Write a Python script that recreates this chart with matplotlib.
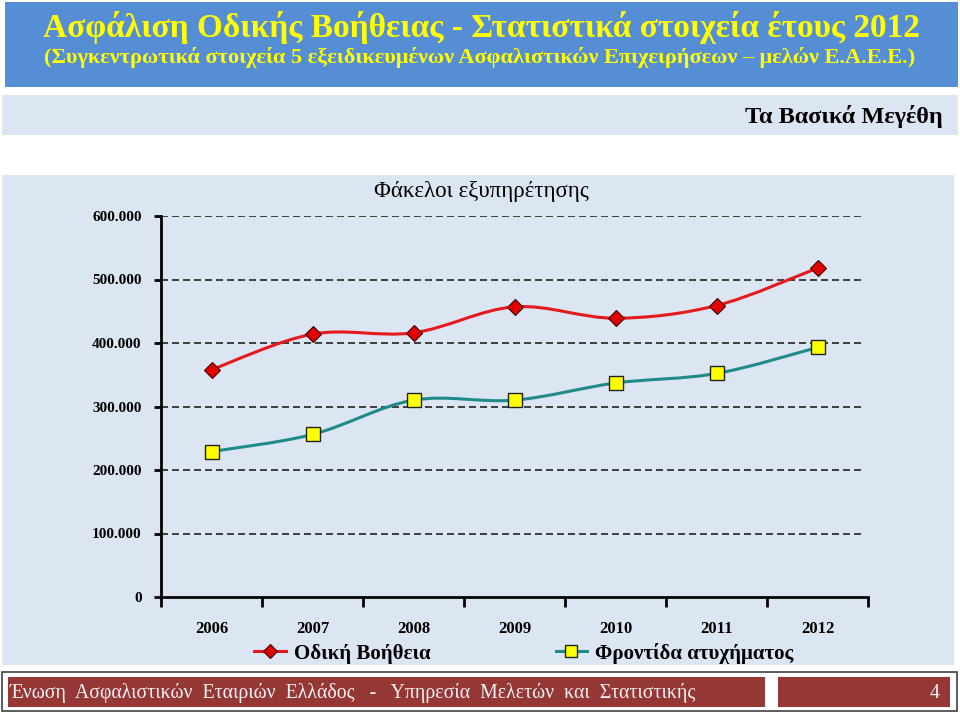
import matplotlib
matplotlib.use("Agg")
import matplotlib.pyplot as plt
from matplotlib.patches import Rectangle, Path, PathPatch
from matplotlib.lines import Line2D
from matplotlib.ticker import FuncFormatter
import numpy as np

plt.rcParams['font.family'] = ['Liberation Serif', 'DejaVu Serif']

years = ['2006', '2007', '2008', '2009', '2010', '2011', '2012']
road_assist = [358000, 414000, 416000, 457000, 439000, 459000, 518000]
accident_care = [229000, 256000, 310000, 310000, 337000, 352000, 393000]
yticks = [0, 100000, 200000, 300000, 400000, 500000, 600000]

title1 = "Ασφάλιση Οδικής Βοήθειας - Στατιστικά στοιχεία έτους 2012"
title2 = "(Συγκεντρωτικά στοιχεία 5 εξειδικευμένων Ασφαλιστικών Επιχειρήσεων – μελών Ε.Α.Ε.Ε.)"
section = "Τα Βασικά Μεγέθη"
chart_title = "Φάκελοι εξυπηρέτησης"
series_names = ["Οδική Βοήθεια", "Φροντίδα ατυχήματος"]
footer = "Ένωση  Ασφαλιστικών  Εταιριών  Ελλάδος   -   Υπηρεσία  Μελετών  και  Στατιστικής"
page = "4"

W, H = 960, 713
fig = plt.figure(figsize=(W / 100, H / 100), dpi=100)
fig.patch.set_facecolor('white')

# background layer in pixel coords
bg = fig.add_axes([0, 0, 1, 1], zorder=0)
bg.set_xlim(0, W)
bg.set_ylim(H, 0)
bg.axis('off')

bg.add_patch(Rectangle((5, 2), 953, 85, facecolor='#558ed5', edgecolor='none'))
bg.add_patch(Rectangle((2, 95), 956, 40, facecolor='#dce6f2', edgecolor='none'))
bg.add_patch(Rectangle((2, 175), 952, 490, facecolor='#dce6f2', edgecolor='none'))
bg.add_patch(Rectangle((2, 672), 955, 39, facecolor='white', edgecolor='#404040', lw=1.2))
bg.add_patch(Rectangle((8, 677), 757, 30, facecolor='#953735', edgecolor='none'))
bg.add_patch(Rectangle((778, 677), 172, 30, facecolor='#953735', edgecolor='none'))

bg.text(481, 27, title1, color='#ffff00', fontsize=24, fontweight='bold', ha='center', va='center')
bg.text(480, 58, title2, color='#ffff00', fontsize=16, fontweight='bold', ha='center', va='center')
bg.text(943, 116, section, color='black', fontsize=17.5, fontweight='bold', ha='right', va='center')
bg.text(481, 191, chart_title, color='black', fontsize=16.5, ha='center', va='center')
bg.text(10, 693, footer, color='#f2f2f2', fontsize=14.3, ha='left', va='center')
bg.text(940, 693, page, color='#f2f2f2', fontsize=14.3, ha='right', va='center')

# chart axes
x0, x1, ytop, ybot = 161, 868, 216, 597
ax = fig.add_axes([x0 / W, 1 - ybot / H, (x1 - x0) / W, (ybot - ytop) / H], zorder=2)
ax.patch.set_alpha(0)
ax.set_xlim(-0.5, len(years) - 0.5)
ax.set_ylim(0, 600000)

for v in yticks[1:]:
    ax.axhline(v, xmax=0.996, color='#111111', lw=1.1, ls=(0, (4.6, 2.6)), zorder=1)


def smooth_path(xs, ys):
    pts = np.column_stack([xs, ys]).astype(float)
    n = len(pts)
    verts = [pts[0]]
    codes = [Path.MOVETO]
    for i in range(n - 1):
        p0 = pts[i - 1] if i > 0 else pts[i]
        p1 = pts[i]
        p2 = pts[i + 1]
        p3 = pts[i + 2] if i + 2 < n else pts[i + 1]
        c1 = p1 + (p2 - p0) / 6.0
        c2 = p2 - (p3 - p1) / 6.0
        verts += [c1, c2, p2]
        codes += [Path.CURVE4] * 3
    return Path(verts, codes)


xs = np.arange(len(years))
red = '#e41a1c'
teal = '#1f8a8a'
ax.add_patch(PathPatch(smooth_path(xs, road_assist), facecolor='none', edgecolor=red, lw=2.2, zorder=3))
ax.add_patch(PathPatch(smooth_path(xs, accident_care), facecolor='none', edgecolor=teal, lw=2.2, zorder=3))
ax.plot(xs, road_assist, ls='none', marker='D', ms=8, mfc='#e00000', mec='#400000', mew=0.8, zorder=4)
ax.plot(xs, accident_care, ls='none', marker='s', ms=9.5, mfc='#ffff00', mec='#202020', mew=1.0, zorder=4)

for s in ['top', 'right']:
    ax.spines[s].set_visible(False)
ax.spines['left'].set_linewidth(2)
ax.spines['bottom'].set_linewidth(2)

ax.set_yticks(yticks)
ax.yaxis.set_major_formatter(FuncFormatter(lambda v, p: f"{int(v):,}".replace(',', '.')))
ax.tick_params(axis='y', length=5, width=2, direction='out', labelsize=11, pad=9)
ax.set_xticks(np.arange(-0.5, len(years), 1.0))
ax.set_xticklabels([])
ax.set_xticks(xs, minor=True)
ax.set_xticklabels(years, minor=True)
ax.tick_params(axis='x', which='major', length=7, width=2, direction='out')
ax.tick_params(axis='x', which='minor', length=0, labelsize=12, pad=17)
for lab in ax.get_yticklabels() + ax.get_xticklabels(minor=True):
    lab.set_fontweight('bold')

handles = [
    Line2D([], [], color=red, lw=2.2, marker='D', ms=7, mfc='#e00000', mec='#400000', mew=0.8),
    Line2D([], [], color=teal, lw=2.2, marker='s', ms=8.5, mfc='#ffff00', mec='#202020', mew=1.0),
]
fig.legend(handles, series_names, loc='center', bbox_to_anchor=(524 / W, 1 - 653 / H),
           ncol=2, frameon=False, prop={'size': 15, 'weight': 'bold'},
           handlelength=1.5, handletextpad=0.4, columnspacing=6.0)

fig.savefig('out.png', dpi=100)
